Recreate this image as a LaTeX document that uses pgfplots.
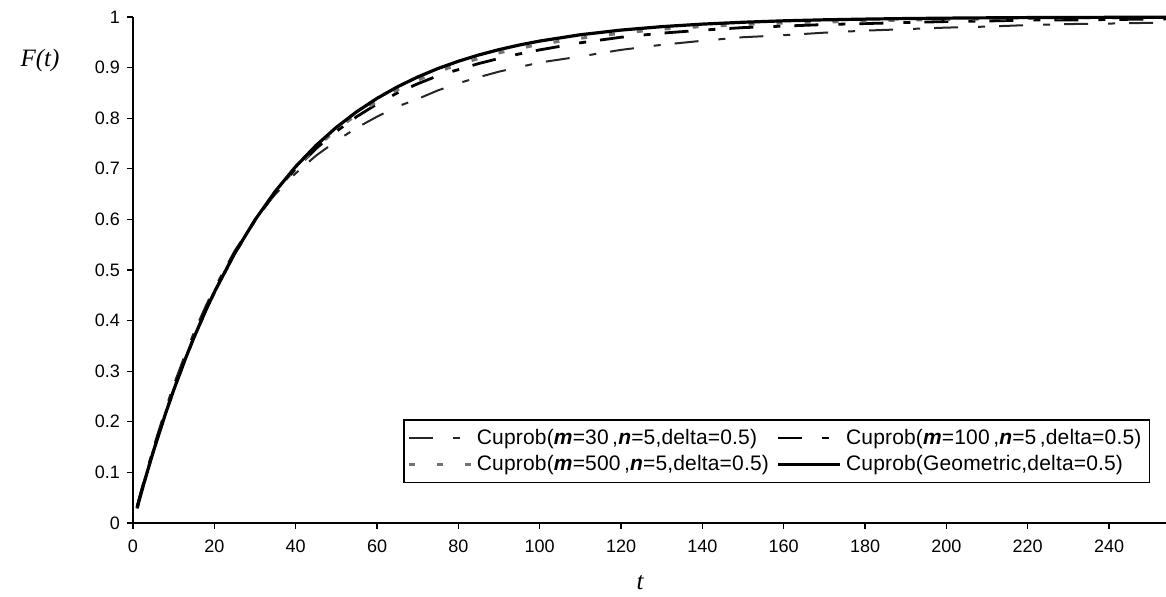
\documentclass[border=0pt]{standalone}
\usepackage{pgfplots}
\pgfplotsset{compat=1.18}
\usepackage{pgfplotstable}
\usepackage{fontspec}
\setmainfont{Liberation Sans}
\newfontfamily\legfont[LetterSpace=0.8]{Liberation Sans}
\newfontfamily\serifit{Liberation Serif}
\pgfplotstableread{
t m30 m100 m500 geo
1 0.035 0.031 0.028 0.0300
3 0.094 0.089 0.086 0.0873
5 0.149 0.143 0.142 0.1413
8 0.226 0.218 0.217 0.2163
10 0.273 0.264 0.263 0.2626
13 0.337 0.328 0.327 0.3270
15 0.377 0.368 0.367 0.3667
18 0.431 0.423 0.421 0.4220
20 0.464 0.457 0.455 0.4562
25 0.538 0.533 0.532 0.5330
30 0.599 0.598 0.598 0.5990
35 0.650 0.654 0.654 0.6556
40 0.691 0.700 0.701 0.7043
45 0.726 0.740 0.742 0.7461
50 0.755 0.774 0.777 0.7819
55 0.781 0.803 0.807 0.8127
60 0.803 0.828 0.833 0.8392
65 0.823 0.850 0.856 0.8619
70 0.838 0.868 0.875 0.8814
75 0.855 0.884 0.892 0.8982
80 0.869 0.896 0.906 0.9125
85 0.881 0.908 0.918 0.9249
90 0.892 0.918 0.929 0.9355
95 0.901 0.927 0.938 0.9446
100 0.910 0.935 0.946 0.9524
110 0.922 0.949 0.958 0.9649
120 0.935 0.960 0.968 0.9741
130 0.945 0.968 0.976 0.9809
140 0.953 0.974 0.981 0.9859
150 0.960 0.979 0.985 0.9896
160 0.964 0.982 0.988 0.9924
170 0.969 0.985 0.990 0.9944
180 0.973 0.987 0.992 0.9958
190 0.976 0.989 0.994 0.9969
200 0.979 0.991 0.995 0.9977
210 0.981 0.992 0.996 0.9983
220 0.984 0.994 0.997 0.9988
230 0.986 0.994 0.998 0.9991
240 0.987 0.995 0.998 0.9993
254 0.989 0.996 0.999 0.9996
}\datatable
\begin{document}
\begin{tikzpicture}
\useasboundingbox (0,0) rectangle (583pt,298.5pt);
\begin{axis}[
  at={(66.5pt,37pt)}, anchor=south west,
  scale only axis, width=516.5pt, height=253pt,
  xmin=0, xmax=254, ymin=0, ymax=1,
  axis lines*=left, axis line style={-, line width=0.8pt},
  xtick={0,20,...,240}, ytick={0,0.1,...,1},
  tick style={black, line width=0.6pt},
  tick align=outside, major tick length=3pt,
  clip=false,
  tick label style={font=\fontsize{9}{10}\selectfont},
  /pgf/number format/assume math mode=true,
  yticklabel style={/pgf/number format/fixed, /pgf/number format/precision=1},
  xticklabel style={yshift=-2pt},
  legend columns=2,
  legend style={at={(rel axis cs:0.9845,0.079)}, anchor=south east,
    font=\legfont\fontsize{10.5}{14}\selectfont, draw=black, line width=0.6pt,
    inner xsep=2pt, inner ysep=2.5pt, row sep=0pt,
    /tikz/every odd column/.append style={column sep=0pt},
    /tikz/every even column/.append style={column sep=2pt}},
  legend cell align=left,
  legend image code/.code={\draw[#1] (0pt,0pt) -- (31pt,0pt);},
]
\addplot[black!85, line width=1pt, dash pattern=on 12pt off 10pt on 3.5pt off 7pt] table[x=t,y=m30] {\datatable};
\addlegendentry{Cuprob(\textbf{\textit{m}}=30\,,\textbf{\textit{n}}=5,delta=0.5)}
\addplot[black, line width=1.4pt, dash pattern=on 12pt off 10pt on 3.5pt off 7pt] table[x=t,y=m100] {\datatable};
\addlegendentry{Cuprob(\textbf{\textit{m}}=100\,,\textbf{\textit{n}}=5\,,delta=0.5)}
\addplot[black!55, line width=1.5pt, dash pattern=on 3pt off 11pt] table[x=t,y=m500] {\datatable};
\addlegendentry{Cuprob(\textbf{\textit{m}}=500\,,\textbf{\textit{n}}=5,delta=0.5)}
\addplot[black, line width=1.6pt] table[x=t,y=geo] {\datatable};
\addlegendentry{Cuprob(Geometric,delta=0.5)}
\node[font=\serifit\itshape\fontsize{12.5}{14}\selectfont] at (rel axis cs:-0.09,0.915) {F(t)};
\node[font=\serifit\itshape\fontsize{12.5}{14}\selectfont] at (rel axis cs:0.491,-0.117) {t};
\end{axis}
\end{tikzpicture}
\end{document}
